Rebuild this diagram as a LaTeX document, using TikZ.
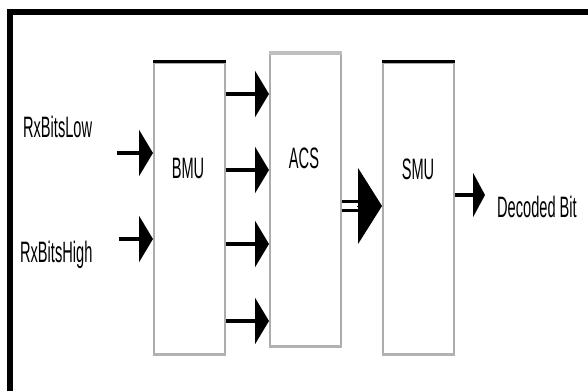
\documentclass[tikz,border=0pt]{standalone}
\usepackage{fontspec}
\setmainfont{Liberation Sans}
\usetikzlibrary{arrows.meta,positioning}

\tikzset{
  unit/.style={draw=gray!65, line width=0.4mm, fill=white, inner sep=0pt,
    minimum width=17.75mm, minimum height=72.75mm, anchor=north west},
  tag/.style={font=\fontsize{21}{25}\selectfont, xscale=0.495, inner sep=0pt},
  sig/.style={line width=0.85mm, -{Triangle[length=3.5mm,width=11.5mm]}},
  bus/.style={line width=0.75mm, double distance=1.5mm},
}

\begin{document}
\begin{tikzpicture}[x=0.25mm,y=-0.25mm]
    \useasboundingbox (0,0) rectangle (588,390);

    % Frame (only top and left edges on the page)
    \draw[line width=1.5mm, line cap=rect] (10,390) -- (10,12) -- (588,12);

    % Units
    \node[unit] (bmu) at (153,62) {};
    \node[unit, minimum height=73mm] (acs) at (269,53) {};
    \node[unit] (smu) at (382,62) {};
    \draw[line width=0.75mm] (bmu.north west) -- (bmu.north east);
    \draw[line width=0.75mm] (smu.north west) -- (smu.north east);
    \draw[gray!50, line width=1mm] (acs.north west) -- (acs.north east);
    \foreach \u in {bmu,acs,smu}
        \draw[gray!60, line width=0.6mm] (\u.south west) -- (\u.south east);
    \node[tag, anchor=base] (bmutag) at (188,178) {BMU};
    \node[tag, anchor=base] (acstag) at (304,168) {ACS};
    \node[tag, anchor=base] (smutag) at (418,179) {SMU};

    % Inputs
    \node[tag, anchor=base west] (rxlow) at (23,138) {RxBitsLow};
    \node[tag, anchor=base west] (rxhigh) at (20,262) {RxBitsHigh};
    \coordinate (inlow) at (117,153);
    \coordinate (inhigh) at (119,239);
    \draw[sig] (inlow) -- (bmu.west |- inlow);
    \draw[sig] (inhigh) -- (bmu.west |- inhigh);

    % Branch metrics
    \foreach \y in {94,170,244,321}
        \draw[sig] (bmu.east |- 0,\y) -- (acs.west |- 0,\y);

    % Survivor bus
    \draw[bus] (acs.east |- 0,206) -- ++(22,0);
    \draw[line width=0.2mm, -{Triangle[length=6mm,width=19mm]}]
        ([xshift=-6.2mm]smu.west |- 0,206) -- (smu.west |- 0,206);

    % Output
    \coordinate (out) at (485,195);
    \draw[sig, -{Triangle[length=3mm,width=11mm]}] (smu.east |- out) -- (out);
    \node[tag, anchor=base west] (decoded) at (497,217) {Decoded Bit};
\end{tikzpicture}
\end{document}
